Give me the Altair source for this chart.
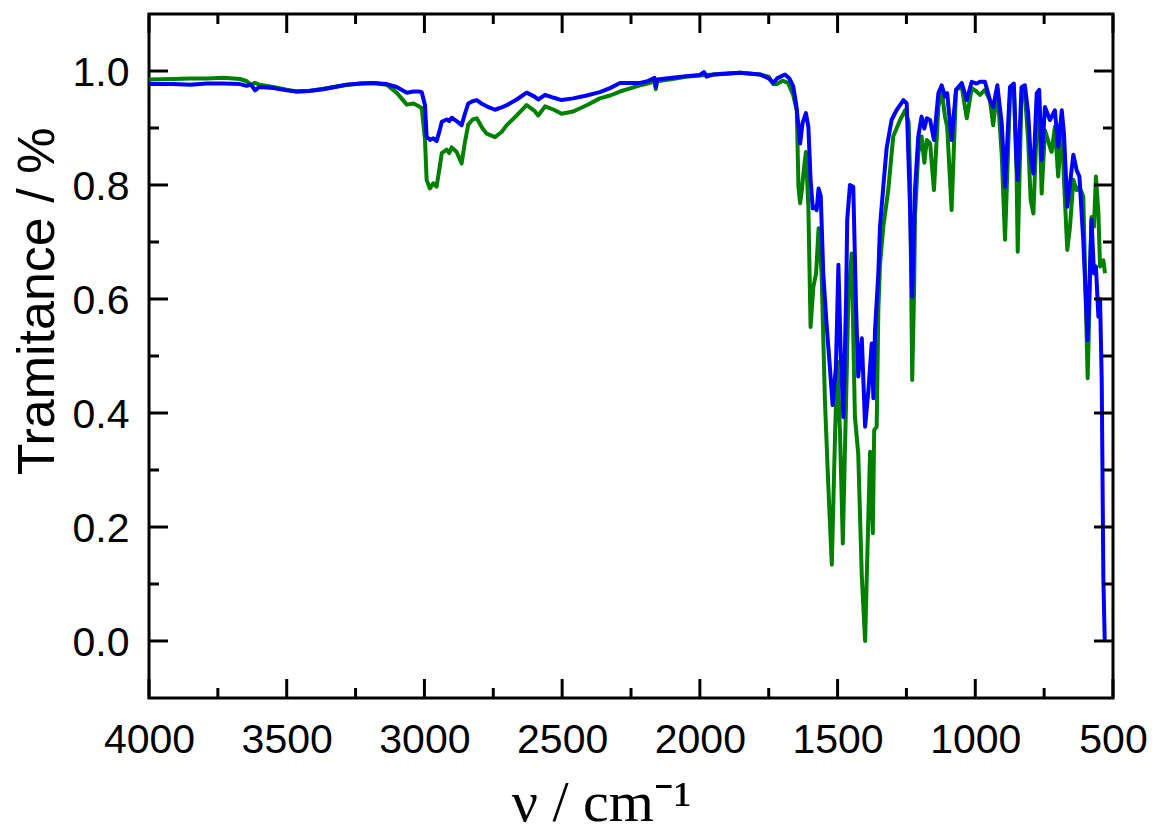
import altair as alt
import pandas as pd

# ---- data ----
wn_green = [4000, 3912, 3850, 3790, 3730, 3670, 3645, 3630, 3615, 3600, 3549, 3500, 3464, 3420, 3367, 3282, 3230, 3186,
            3137, 3101, 3064, 3040, 3020, 3010, 2998, 2992, 2980, 2968, 2956, 2945, 2937, 2919, 2910, 2901, 2883, 2865,
            2853, 2841, 2825, 2810, 2790, 2774, 2744, 2720, 2701, 2665, 2629, 2600, 2587, 2562, 2530, 2502, 2460, 2411,
            2363, 2326, 2290, 2250, 2217, 2190, 2165, 2160, 2155, 2100, 2050, 2000, 1950, 1900, 1854, 1782, 1750, 1733,
            1720, 1700, 1680, 1661, 1648, 1642, 1636, 1630, 1624, 1615, 1606, 1598, 1588, 1578, 1569, 1558, 1546, 1534,
            1521, 1509, 1501, 1491, 1481, 1469, 1461, 1449, 1437, 1425, 1412, 1400, 1394, 1382, 1372, 1367, 1358, 1352,
            1346, 1334, 1316, 1298, 1273, 1255, 1242, 1237, 1229, 1222, 1219, 1207, 1195, 1185, 1176, 1164, 1150, 1134,
            1122, 1110, 1102, 1086, 1070, 1049, 1031, 1013, 995, 983, 965, 947, 935, 920, 904, 892, 874, 860, 850, 846,
            832, 820, 808, 799, 789, 777, 768, 759, 747, 729, 723, 711, 699, 686, 678, 666, 656, 644, 632, 622, 608, 592,
            578, 569, 562, 553, 547, 535, 529]
t_green = [0.985, 0.986, 0.987, 0.987, 0.988, 0.986, 0.982, 0.976, 0.979, 0.976, 0.972, 0.967, 0.964, 0.965, 0.969,
           0.976, 0.978, 0.979, 0.976, 0.962, 0.941, 0.943, 0.938, 0.935, 0.880, 0.809, 0.794, 0.803, 0.797, 0.830,
           0.856, 0.862, 0.856, 0.866, 0.858, 0.838, 0.875, 0.906, 0.915, 0.917, 0.900, 0.890, 0.884, 0.893, 0.905,
           0.922, 0.940, 0.930, 0.922, 0.938, 0.932, 0.925, 0.929, 0.940, 0.952, 0.957, 0.964, 0.970, 0.975, 0.978,
           0.982, 0.968, 0.982, 0.986, 0.990, 0.992, 0.994, 0.996, 0.997, 0.994, 0.990, 0.977, 0.977, 0.983, 0.979,
           0.958, 0.930, 0.797, 0.768, 0.790, 0.820, 0.858, 0.761, 0.551, 0.621, 0.645, 0.724, 0.645, 0.423, 0.277,
           0.134, 0.364, 0.490, 0.364, 0.171, 0.423, 0.600, 0.680, 0.393, 0.329, 0.113, 0.000, 0.113, 0.332, 0.189,
           0.370, 0.376, 0.580, 0.660, 0.727, 0.791, 0.885, 0.914, 0.931, 0.910, 0.820, 0.458, 0.620, 0.744, 0.856,
           0.885, 0.839, 0.879, 0.873, 0.791, 0.937, 0.966, 0.920, 0.902, 0.756, 0.967, 0.972, 0.917, 0.970, 0.964,
           0.958, 0.967, 0.949, 0.905, 0.969, 0.853, 0.704, 0.958, 0.972, 0.820, 0.683, 0.961, 0.961, 0.879, 0.774,
           0.750, 0.902, 0.937, 0.785, 0.896, 0.867, 0.858, 0.902, 0.815, 0.908, 0.809, 0.686, 0.727, 0.809, 0.791,
           0.797, 0.780, 0.461, 0.744, 0.727, 0.815, 0.750, 0.657, 0.668, 0.645]

wn_blue = [4000, 3912, 3850, 3790, 3730, 3670, 3645, 3630, 3615, 3600, 3549, 3500, 3464, 3420, 3367, 3282, 3230, 3186,
           3137, 3101, 3064, 3040, 3020, 3010, 2998, 2992, 2980, 2968, 2956, 2945, 2937, 2919, 2910, 2901, 2883, 2865,
           2853, 2841, 2825, 2810, 2790, 2774, 2744, 2720, 2701, 2665, 2629, 2600, 2587, 2562, 2530, 2502, 2460, 2411,
           2363, 2326, 2290, 2250, 2217, 2190, 2165, 2160, 2155, 2100, 2050, 2000, 1985, 1975, 1950, 1900, 1854, 1782,
           1750, 1733, 1720, 1691, 1675, 1661, 1649, 1636, 1627, 1615, 1606, 1598, 1590, 1582, 1576, 1569, 1561, 1552,
           1540, 1528, 1518, 1506, 1497, 1489, 1479, 1469, 1465, 1455, 1443, 1433, 1425, 1412, 1400, 1388, 1376, 1370,
           1364, 1352, 1346, 1334, 1322, 1304, 1285, 1261, 1249, 1237, 1229, 1219, 1207, 1195, 1185, 1176, 1164, 1150,
           1134, 1122, 1110, 1102, 1086, 1070, 1049, 1031, 1013, 995, 983, 965, 947, 935, 920, 904, 892, 874, 860, 850,
           846, 832, 820, 808, 799, 789, 777, 768, 759, 747, 729, 711, 699, 686, 678, 666, 656, 644, 632, 622, 608, 592,
           590, 578, 569, 562, 553, 547, 541, 535, 530]
t_blue = [0.977, 0.977, 0.976, 0.978, 0.978, 0.977, 0.974, 0.976, 0.966, 0.972, 0.970, 0.966, 0.964, 0.965, 0.968,
          0.976, 0.978, 0.979, 0.977, 0.972, 0.962, 0.964, 0.964, 0.963, 0.940, 0.885, 0.879, 0.882, 0.877, 0.895,
          0.911, 0.915, 0.912, 0.918, 0.912, 0.905, 0.925, 0.943, 0.947, 0.949, 0.942, 0.938, 0.932, 0.936, 0.940,
          0.950, 0.962, 0.955, 0.950, 0.958, 0.953, 0.949, 0.952, 0.957, 0.963, 0.970, 0.979, 0.979, 0.979, 0.982,
          0.988, 0.972, 0.985, 0.988, 0.991, 0.993, 0.998, 0.990, 0.994, 0.995, 0.997, 0.994, 0.987, 0.979, 0.987,
          0.994, 0.987, 0.973, 0.937, 0.873, 0.909, 0.926, 0.902, 0.809, 0.759, 0.762, 0.756, 0.794, 0.780, 0.645,
          0.557, 0.481, 0.414, 0.481, 0.660, 0.510, 0.393, 0.600, 0.739, 0.800, 0.797, 0.587, 0.464, 0.531, 0.376,
          0.440, 0.522, 0.426, 0.546, 0.645, 0.727, 0.797, 0.864, 0.914, 0.932, 0.949, 0.943, 0.762, 0.604, 0.791,
          0.885, 0.920, 0.899, 0.917, 0.914, 0.879, 0.961, 0.975, 0.955, 0.961, 0.879, 0.967, 0.979, 0.949, 0.981,
          0.978, 0.981, 0.981, 0.949, 0.937, 0.975, 0.908, 0.797, 0.972, 0.978, 0.838, 0.809, 0.972, 0.975, 0.926,
          0.850, 0.820, 0.961, 0.967, 0.844, 0.937, 0.914, 0.931, 0.867, 0.931, 0.890, 0.762, 0.803, 0.853, 0.826,
          0.815, 0.704, 0.528, 0.557, 0.739, 0.645, 0.657, 0.569, 0.600, 0.460, 0.110, 0.000]

x_major = [4000, 3500, 3000, 2500, 2000, 1500, 1000, 500]
x_minor = [3750, 3250, 2750, 2250, 1750, 1250, 750]
y_major = [0.0, 0.2, 0.4, 0.6, 0.8, 1.0]
y_minor = [0.1, 0.3, 0.5, 0.7, 0.9]

x_title = "ν / cm⁻¹"
y_title = "Tramitance / %"

# ---- layout ----
W, H = 964, 684
MAJ, MIN = 19, 10
SANS = "Liberation Sans, Arial, sans-serif"
SERIF = "Liberation Serif, Times New Roman, serif"

green_df = pd.DataFrame({"wn": wn_green, "T": t_green})
blue_df = pd.DataFrame({"wn": wn_blue, "T": t_blue})
assert len(wn_green) == len(t_green) and len(wn_blue) == len(t_blue)

xscale = alt.Scale(domain=[500, 4000], reverse=True, nice=False, zero=False)
yscale = alt.Scale(domain=[-0.1, 1.1], nice=False, zero=False)

xaxis = alt.Axis(values=x_major, format="d", labelFont=SANS, labelFontSize=41, labelColor="black",
                 labelPadding=22, labelFlush=False, labelOverlap=False, ticks=False, tickSize=0,
                 domain=False, grid=False, title=x_title, titleFont=SERIF, titleFontSize=58,
                 titleFontWeight="normal", titleColor="black", titleX=452, titleY=122,
                 titleAlign="center", titleBaseline="alphabetic")
yaxis = alt.Axis(values=y_major, format=".1f", labelFont=SANS, labelFontSize=41, labelColor="black",
                 labelPadding=20, labelFlush=False, labelOverlap=False, labelOffset=2, ticks=False, tickSize=0,
                 domain=False, grid=False, title=y_title, titleFont=SANS, titleFontSize=52,
                 titleFontWeight="normal", titleColor="black", titleAngle=270, titleX=-96, titleY=287,
                 titleAlign="center", titleBaseline="alphabetic")

X = alt.X("wn:Q", scale=xscale, axis=xaxis)
Y = alt.Y("T:Q", scale=yscale, axis=yaxis)

green = alt.Chart(green_df).mark_line(color="#008000", strokeWidth=4, strokeJoin="round", clip=True).encode(x=X, y=Y)
blue = alt.Chart(blue_df).mark_line(color="#0000ff", strokeWidth=4, strokeJoin="round", clip=True).encode(x=X, y=Y)


def xticks(vals, y0, y1):
    return alt.Chart(pd.DataFrame({"wn": vals})).mark_rule(color="black", strokeWidth=3).encode(
        x=X, y=alt.value(y0), y2=alt.value(y1))


def yticks(vals, x0, x1):
    return alt.Chart(pd.DataFrame({"T": vals})).mark_rule(color="black", strokeWidth=3).encode(
        y=Y, x=alt.value(x0), x2=alt.value(x1))


ticks = [
    xticks(x_major, H, H - MAJ), xticks(x_minor, H, H - MIN),
    xticks(x_major, 0, MAJ), xticks(x_minor, 0, MIN),
    yticks(y_major, 0, MAJ), yticks(y_minor, 0, MIN),
    yticks(y_major, W, W - MAJ), yticks(y_minor, W, W - MIN),
]

chart = alt.layer(green, blue, *ticks).properties(
    width=W, height=H,
    padding={"left": 149, "top": 14, "right": 44, "bottom": 137},
    autosize=alt.AutoSizeParams(type="none"),
    background="white",
).configure_view(stroke="black", strokeWidth=3)

chart.save("out.html", embed_options={"renderer": "svg", "actions": False})
